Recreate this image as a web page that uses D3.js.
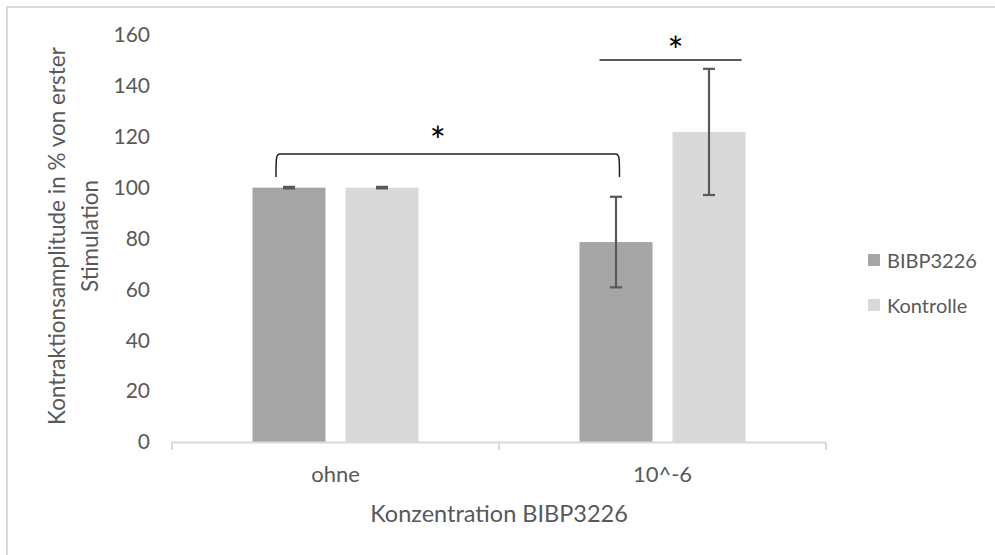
<!DOCTYPE html>
<html>
<head>
<meta charset="utf-8">
<script src="https://cdn.jsdelivr.net/npm/d3@7"></script>
<style>
  html, body { margin: 0; padding: 0; background: #fff; }
  svg { display: block; }
  text { font-family: Lato, "Open Sans", sans-serif; }
</style>
</head>
<body>
<svg id="chart" width="995" height="555"></svg>
<script>
// ---- data ----
const categories = ["ohne", "10^-6"];
const seriesNames = ["BIBP3226", "Kontrolle"];
const bibpValues = [100, 78.6];
const bibpErrors = [0.3, 17.8];
const kontrolleValues = [100, 121.9];
const kontrolleErrors = [0.3, 24.8];
const yTicks = [0, 20, 40, 60, 80, 100, 120, 140, 160];
const yTitleLines = ["Kontraktionsamplitude in % von erster", "Stimulation"];
const xTitle = "Konzentration BIBP3226";

const colors = { "BIBP3226": "#a5a5a5", "Kontrolle": "#d9d9d9" };
const textColor = "#595959";

const svg = d3.select("#chart");

// outer border
svg.append("rect")
  .attr("x", 7).attr("y", 7)
  .attr("width", 1000).attr("height", 560)
  .attr("fill", "none").attr("stroke", "#d9d9d9").attr("stroke-width", 2);

const plotLeft = 172, plotRight = 826, plotTop = 35, plotBottom = 442;

const y = d3.scaleLinear().domain([0, 160]).range([plotBottom, plotTop]);
const x0 = d3.scaleBand().domain(categories).range([plotLeft, plotRight]).paddingInner(0).paddingOuter(0);
const groupW = 166;
const off = (x0.bandwidth() - groupW) / 2;
const x1 = d3.scaleBand().domain(seriesNames).range([off, off + groupW]).paddingInner(0.215).paddingOuter(0);

const data = [];
categories.forEach((c, i) => {
  data.push({ cat: c, s: "BIBP3226", v: bibpValues[i], e: bibpErrors[i] });
  data.push({ cat: c, s: "Kontrolle", v: kontrolleValues[i], e: kontrolleErrors[i] });
});

// y tick labels
svg.append("g").selectAll("text").data(yTicks).join("text")
  .attr("x", 150).attr("y", d => y(d))
  .attr("dy", "0.35em")
  .attr("text-anchor", "end")
  .attr("font-size", 21)
  .attr("fill", textColor)
  .text(d => d);

// bars
svg.append("g").selectAll("rect").data(data).join("rect")
  .attr("x", d => x0(d.cat) + x1(d.s))
  .attr("width", x1.bandwidth())
  .attr("y", d => y(d.v))
  .attr("height", d => y(0) - y(d.v))
  .attr("fill", d => colors[d.s]);

// x axis
const xAxis = svg.append("g");
xAxis.append("line")
  .attr("x1", plotLeft).attr("x2", plotRight)
  .attr("y1", plotBottom + 0.5).attr("y2", plotBottom + 0.5)
  .attr("stroke", "#d9d9d9").attr("stroke-width", 2);
const tickXs = categories.map(c => x0(c)).concat([x0(categories[categories.length - 1]) + x0.bandwidth()]);
xAxis.selectAll("line.tick").data(tickXs).join("line")
  .attr("class", "tick")
  .attr("x1", d => d).attr("x2", d => d)
  .attr("y1", plotBottom).attr("y2", plotBottom + 8)
  .attr("stroke", "#d9d9d9").attr("stroke-width", 2);
xAxis.selectAll("text").data(categories).join("text")
  .attr("x", d => x0(d) + x0.bandwidth() / 2)
  .attr("y", 482)
  .attr("text-anchor", "middle")
  .attr("font-size", 22)
  .attr("fill", textColor)
  .text(d => d);

// error bars
const eb = svg.append("g").attr("stroke", "#595959").attr("stroke-width", 2.2);
data.forEach(d => {
  const cx = x0(d.cat) + x1(d.s) + x1.bandwidth() / 2;
  const yt = y(d.v + d.e), yb = y(d.v - d.e);
  eb.append("line").attr("x1", cx).attr("x2", cx).attr("y1", yt).attr("y2", yb);
  eb.append("line").attr("x1", cx - 6).attr("x2", cx + 6).attr("y1", yt).attr("y2", yt);
  eb.append("line").attr("x1", cx - 6).attr("x2", cx + 6).attr("y1", yb).attr("y2", yb);
});

// significance annotations
const ann = svg.append("g");
const bL = x0("ohne") + x1("BIBP3226") + x1.bandwidth() / 2 - 13;
const bR = x0("10^-6") + x1("BIBP3226") + x1.bandwidth() / 2 + 3.5;
const bTop = y(113.2), bBot = y(104.2);
ann.append("path")
  .attr("d", `M${bL},${bBot} C${bL},${bTop + 4} ${bL},${bTop} ${bL + 4},${bTop} L${bR - 4},${bTop} C${bR},${bTop} ${bR},${bTop + 4} ${bR},${bBot}`)
  .attr("fill", "none").attr("stroke", "#222").attr("stroke-width", 1.5);
ann.append("text")
  .attr("x", (bL + bR) / 2 - 10).attr("y", y(122.2))
  .attr("dy", "0.62em")
  .attr("text-anchor", "middle")
  .attr("font-size", 38).attr("fill", "#000")
  .attr("font-family", "DejaVu Sans")
  .text("*");
const tL = x0("10^-6") + x1("BIBP3226") + 20;
const tR = x0("10^-6") + x1("Kontrolle") + x1.bandwidth() - 4;
ann.append("line")
  .attr("x1", tL).attr("x2", tR).attr("y1", y(150.2)).attr("y2", y(150.2))
  .attr("stroke", "#222").attr("stroke-width", 1.5);
ann.append("text")
  .attr("x", (tL + tR) / 2 + 5).attr("y", y(157.6))
  .attr("dy", "0.62em")
  .attr("text-anchor", "middle")
  .attr("font-size", 38).attr("fill", "#000")
  .attr("font-family", "DejaVu Sans")
  .text("*");

// y axis title
const yt = svg.append("text")
  .attr("transform", "translate(0,236) rotate(-90)")
  .attr("text-anchor", "middle")
  .attr("font-size", 22.5)
  .attr("fill", textColor);
yt.append("tspan").attr("x", 0).attr("y", 65).text(yTitleLines[0]);
yt.append("tspan").attr("x", 0).attr("y", 98).text(yTitleLines[1]);

// x axis title
svg.append("text")
  .attr("x", 499).attr("y", 522)
  .attr("text-anchor", "middle")
  .attr("font-size", 23.5)
  .attr("fill", textColor)
  .text(xTitle);

// legend
const lg = svg.append("g");
seriesNames.forEach((s, i) => {
  const yy = 254 + i * 45;
  lg.append("rect").attr("x", 868).attr("y", yy).attr("width", 12).attr("height", 12).attr("fill", colors[s]);
  lg.append("text").attr("x", 887).attr("y", yy + 14)
    .attr("font-size", 20).attr("fill", textColor).text(s);
});
</script>
</body>
</html>
